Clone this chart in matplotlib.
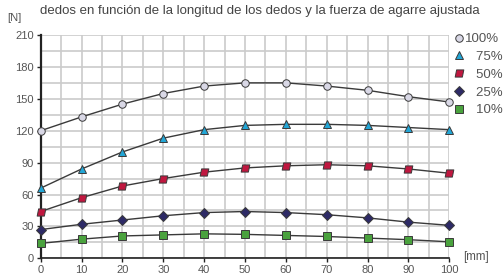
import numpy as np
import matplotlib
matplotlib.use("Agg")
import matplotlib.pyplot as plt
from matplotlib.path import Path

plt.rcParams['font.family'] = ['Liberation Sans', 'DejaVu Sans']

# finger length [mm]
lengths = [0, 10, 20, 30, 40, 50, 60, 70, 80, 90, 100]

# gripping force [N] per adjusted grip force setting
force_100 = [120, 133, 145, 155, 162, 165, 165, 162, 158, 152, 147]
force_75 = [66, 84, 100, 113, 121, 125, 126, 126, 125, 123, 121]
force_50 = [44, 57, 68, 75, 81, 85, 87, 88, 87, 84, 80]
force_25 = [27, 32, 36, 40, 43, 44, 43, 41, 38, 34, 31]
force_10 = [14, 18, 21, 22, 23, 22.5, 21.5, 20.5, 19, 17.5, 15.5]

labels = ["100%", "\u2007 75%", "\u2007 50%", "\u2007 25%", "\u2007 10%"]
title = "dedos en función de la longitud de los dedos y la fuerza de agarre ajustada"

# skewed square for the 50% series
para = Path([(-0.6, -0.5), (0.4, -0.5), (0.6, 0.5), (-0.4, 0.5), (-0.6, -0.5)],
            [Path.MOVETO, Path.LINETO, Path.LINETO, Path.LINETO, Path.CLOSEPOLY])

series = [
    (force_100, 'o', '#d9d8e6', 5.4),
    (force_75, '^', '#22a6d6', 5.6),
    (force_50, para, '#c0173f', 6.2),
    (force_25, 'D', '#2d2a66', 4.8),
    (force_10, 's', '#4aa23e', 5.2),
]

fig = plt.figure(figsize=(5.04, 2.78), dpi=100)
ax = fig.add_axes([0.0808, 0.0709, 0.8107, 0.8031])

handles = []
for (vals, mk, fc, ms), lab in zip(series, labels):
    h, = ax.plot(lengths, vals, color='#3a3a3a', lw=1.0, marker=mk, markersize=ms,
                 markerfacecolor=fc, markeredgecolor='#3a3a3a', markeredgewidth=0.7,
                 label=lab, clip_on=False, zorder=3)
    handles.append(h)

ax.set_xlim(0, 100)
ax.set_ylim(0, 210)
ax.set_xticks(np.arange(0, 101, 10))
ax.set_yticks(np.arange(0, 211, 30))
ax.set_xticks(np.arange(0, 101, 5), minor=True)
ax.set_yticks(np.arange(0, 211, 15), minor=True)
ax.grid(True, which='both', color='#cbcbcb', lw=1.2, zorder=0)
ax.set_axisbelow(True)

for s in ['top', 'right']:
    ax.spines[s].set_visible(False)
ax.spines['left'].set_color('#222222')
ax.spines['left'].set_linewidth(1.6)
ax.spines['bottom'].set_color('#222222')
ax.spines['bottom'].set_linewidth(1.2)
ax.tick_params(which='major', length=3, width=1, color='#222222', labelcolor='#555555',
               labelsize=8, pad=2)
ax.tick_params(which='minor', length=0)

fig.text(40 / 504, 1 - 11 / 278, title, fontsize=9.5, color='#444444', va='center', ha='left')
fig.text(7 / 504, 1 - 18 / 278, "[N]", fontsize=8, color='#555555', va='center', ha='left')
fig.text(463 / 504, 1 - 257 / 278, "[mm]", fontsize=8.4, color='#555555', va='center', ha='left')

fig.legend(handles=[plt.Line2D([], [], ls='none', marker=h.get_marker(), markersize=h.get_markersize(),
                               markerfacecolor=h.get_markerfacecolor(), markeredgecolor='#3a3a3a',
                               markeredgewidth=0.7) for h in handles],
           labels=labels, loc='upper left', bbox_to_anchor=(454 / 504, 1 - 33 / 278),
           frameon=False, fontsize=9.5, handlelength=0.7, handletextpad=0.1,
           labelspacing=0.42, borderpad=0, borderaxespad=0, labelcolor='#555555')

fig.savefig("out.png", dpi=100)
